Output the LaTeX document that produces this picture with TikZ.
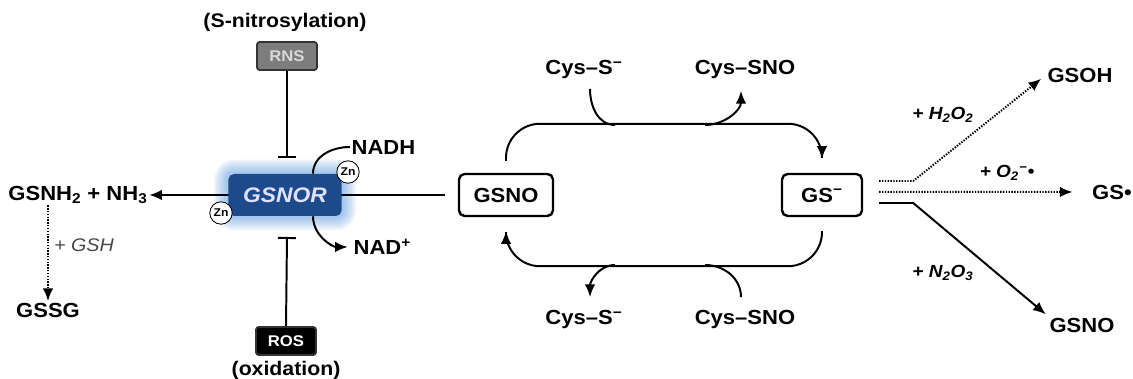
\documentclass[tikz,border=0pt]{standalone}
\usepackage{fontspec}
\setmainfont{Liberation Sans}[FakeStretch=1.08]
\usetikzlibrary{arrows.meta,positioning,calc,backgrounds}
\definecolor{enzblue}{RGB}{28,74,138}
\definecolor{glowblue}{RGB}{90,150,220}
\definecolor{rnsgray}{RGB}{125,125,125}
\definecolor{labelgray}{RGB}{70,70,70}

\begin{document}
\begin{tikzpicture}[x=0.025cm,y=0.025cm,
    lbl/.style={font=\fontsize{14.5}{16}\selectfont\bfseries,inner sep=1pt},
    note/.style={font=\fontsize{14}{15}\selectfont\bfseries,inner sep=1pt},
    cond/.style={font=\fontsize{12.5}{13}\selectfont\bfseries\itshape,inner sep=1pt},
    species/.style={draw,line width=1.7pt,rounded corners=4pt,fill=white,
      minimum height=1.05cm,font=\fontsize{14.5}{16}\selectfont\bfseries},
    regbox/.style={draw=black!80,line width=1.3pt,rounded corners=2pt,
      minimum width=1.5cm,minimum height=0.7cm,font=\fontsize{11}{12}\selectfont\bfseries},
    enzyme/.style={fill=enzblue,rounded corners=4pt,minimum width=2.83cm,
      minimum height=1.05cm,text=white!88!blue,font=\fontsize{15}{16}\selectfont\bfseries\itshape},
    zn/.style={circle,draw,fill=white,line width=0.6pt,inner sep=0pt,minimum size=0.56cm,
      font=\fontsize{8}{9}\selectfont\bfseries},
    arr/.style={-{Latex[length=9pt,width=7.5pt]},line width=1.4pt},
    dotarr/.style={arr,dash pattern=on 1pt off 1pt},
    inhib/.style={-{Bar[width=0.45cm]},line width=1.4pt},
    link/.style={line width=1.4pt}
  ]
  \useasboundingbox (0,0) rectangle (1133,379);

  % left side: products of the enzyme
  \node[lbl] (gsnh) at (78,184) {GSNH\textsubscript{2} + NH\textsubscript{3}};
  \node[lbl] (gssg) at (48,69) {GSSG};
  \node[font=\fontsize{13}{14}\selectfont\itshape,text=labelgray] (gsh) at (84,134) {+ GSH};

  % enzyme and its regulators
  \node[enzyme] (gsnor) at (285,184) {GSNOR};
  \node[regbox,fill=rnsgray,text=black!15] (rns) at (287,323) {RNS};
  \node[note] (snitro) at (285,357) {(S-nitrosylation)};
  \node[regbox,fill=black,text=white] (ros) at (286,38) {ROS};
  \node[note] (oxid) at (286,9) {(oxidation)};
  \coordinate (rnsend) at (287,221);
  \coordinate (rosend) at (287,142);
  \node[lbl,anchor=west] (nadh) at (350,232) {NADH};
  \node[lbl,anchor=west] (nad) at (352,132) {NAD\textsuperscript{+}};

  % transnitrosation cycle
  \node[species,minimum width=2.35cm] (gsno) at (506,184) {GSNO};
  \node[species,minimum width=2cm] (gs) at (822,184) {GS\textsuperscript{−}};
  \node[lbl] (cysa) at (584,309) {Cys–S\textsuperscript{−}};
  \node[lbl] (cysb) at (745,309) {Cys–SNO};
  \node[lbl] (cysc) at (584,59) {Cys–S\textsuperscript{−}};
  \node[lbl] (cysd) at (745,59) {Cys–SNO};
  \coordinate (ta) at (615,254);
  \coordinate (tb) at (705,254);
  \coordinate (ba) at (615,114);
  \coordinate (bb) at (705,114);

  % right side: fates of GS-
  \node[lbl] (gsoh) at (1080,304) {GSOH};
  \node[lbl] (gsrad) at (1112,187) {GS•};
  \node[lbl] (gsnob) at (1082,54) {GSNO};
  \node[cond] (h2o2) at (943,264) {+ H\textsubscript{2}O\textsubscript{2}};
  \node[cond] (superox) at (1007,206) {+ O\textsubscript{2}\textsuperscript{−}•};
  \node[cond] (n2o3) at (943,106) {+ N\textsubscript{2}O\textsubscript{3}};

  % glow and main reaction line behind the enzyme
  \begin{scope}[on background layer]
    \foreach \g in {1,...,7}
      \fill[glowblue,opacity=0.1,rounded corners={4pt+\g*1.5pt}]
        ($(gsnor.south west)+(-\g*2,-\g*2)$) rectangle ($(gsnor.north east)+(\g*2,\g*2)$);
    \draw[arr,shorten <=0.33cm] (gsno.west) -- (gsnh.east);
  \end{scope}

  \draw[dotarr] (gssg.north |- gsnh.south) -- (gssg.north);
  \draw[inhib] (rns.south) -- (rnsend);
  \draw[inhib] (ros.north) -- (rosend);
  \draw[link] ($(gsnor.north)+(28,0)$) to[out=90,in=180] (nadh.west);
  \draw[arr,shorten >=3pt] ($(gsnor.south)+(28,0)$) to[out=-90,in=180] (nad.west);
  \node[zn] (zna) at (348,207) {Zn};
  \node[zn] (znb) at (221,166) {Zn};

  \draw[arr,rounded corners=0.85cm] ([yshift=0.3cm]gsno.north) -- ++(0,37) -| ([yshift=0.35cm]gs.north);
  \draw[arr,rounded corners=0.85cm] ([yshift=-0.35cm]gs.south) -- ++(0,-35) -| ([yshift=-0.35cm]gsno.south);
  \draw[link] ([xshift=0.15cm,yshift=-0.2cm]cysa.south) to[out=-90,in=180] (ta);
  \draw[arr] (tb) to[out=0,in=-90] ([xshift=-0.1cm,yshift=-0.25cm]cysb.south);
  \draw[arr] (ba) to[out=180,in=90] ([xshift=0.15cm,yshift=0.3cm]cysc.north);
  \draw[link] ([xshift=-0.1cm,yshift=0.3cm]cysd.north) to[out=90,in=0] (bb);

  \draw[dotarr,shorten >=0.15cm] ([xshift=0.4cm,yshift=0.35cm]gs.east) -- ++(34,0) -- (gsoh.west);
  \draw[dotarr,shorten >=0.45cm] ([xshift=0.4cm,yshift=0.08cm]gs.east) -- (gsrad.west);
  \draw[arr,shorten >=2pt] ([xshift=0.4cm,yshift=-0.2cm]gs.east) -- ++(34,0) -- (gsnob.north west);
\end{tikzpicture}
\end{document}
